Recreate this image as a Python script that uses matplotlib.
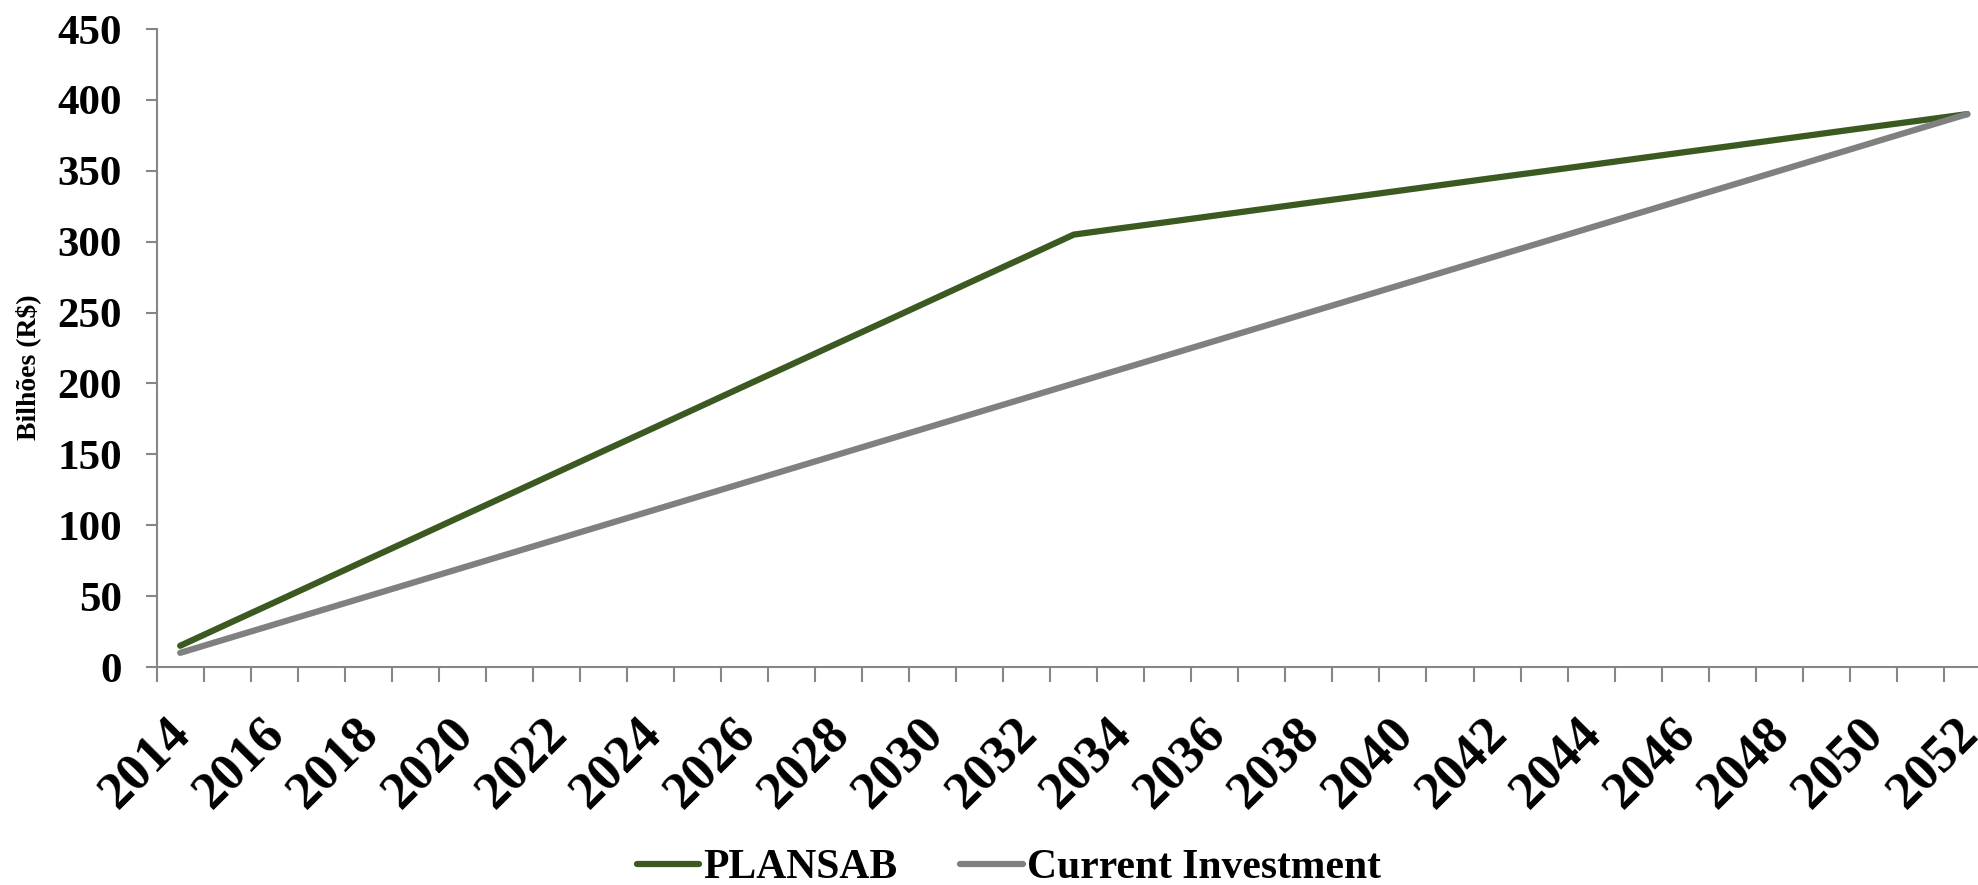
import numpy as np
import matplotlib
matplotlib.use("Agg")
import matplotlib.pyplot as plt
from matplotlib.transforms import ScaledTranslation

# years on the category axis
years = list(range(2014, 2053))

# R$ billions
plansab = [15.0, 30.3, 45.5, 60.8, 76.1, 91.3, 106.6, 121.8, 137.1, 152.4,
           167.6, 182.9, 198.2, 213.4, 228.7, 243.9, 259.2, 274.5, 289.7, 305.0,
           309.5, 313.9, 318.4, 322.9, 327.4, 331.8, 336.3, 340.8, 345.3, 349.7,
           354.2, 358.7, 363.2, 367.6, 372.1, 376.6, 381.1, 385.5, 390.0]
current = [10, 20, 30, 40, 50, 60, 70, 80, 90, 100,
           110, 120, 130, 140, 150, 160, 170, 180, 190, 200,
           210, 220, 230, 240, 250, 260, 270, 280, 290, 300,
           310, 320, 330, 340, 350, 360, 370, 380, 390]

plt.rcParams['font.family'] = ['Liberation Serif', 'DejaVu Serif']
plt.rcParams['font.weight'] = 'bold'

fig = plt.figure(figsize=(19.78, 8.85), dpi=100)
ax = fig.add_axes([0.0792, 0.2463, 0.9273, 0.7209])

x = np.arange(len(years))
ax.plot(x, plansab, color='#3B5A22', lw=4.5, solid_capstyle='round', label='PLANSAB')
ax.plot(x, current, color='#808080', lw=4.5, solid_capstyle='round', label='Current Investment')

ax.set_xlim(-0.5, len(years) - 0.5)
ax.set_ylim(0, 450)
ax.set_yticks(range(0, 451, 50))

# labels on every other year, tick marks between categories
ax.set_xticks(x[::2])
ax.set_xticklabels([str(y) for y in years[::2]], rotation=45, ha='right',
                   va='top', rotation_mode='anchor')
ax.set_xticks(np.arange(-0.5, len(years), 1), minor=True)
ax.tick_params(axis='x', which='major', length=0, pad=30, labelsize=38)
ax.tick_params(axis='x', which='minor', length=11, width=1.5, color='#868686')
ax.tick_params(axis='y', length=8, width=1.5, color='#868686', pad=17, labelsize=31)

shift = ScaledTranslation(-14 / 100, 0, fig.dpi_scale_trans)
for lab in ax.get_xticklabels():
    lab.set_transform(lab.get_transform() + shift)

for s in ['top', 'right']:
    ax.spines[s].set_visible(False)
for s in ['left', 'bottom']:
    ax.spines[s].set_color('#868686')
    ax.spines[s].set_linewidth(1.5)

ax.set_ylabel('Bilhões (R$)', fontsize=20, fontweight='bold')
ax.yaxis.set_label_coords(-0.063, 0.47)

fig.legend(loc='lower center', bbox_to_anchor=(0.51, -0.045), ncol=2, frameon=False,
           fontsize=30, handlelength=1.5, handletextpad=0.1, columnspacing=1.5)

fig.savefig('out.png', dpi=100)
